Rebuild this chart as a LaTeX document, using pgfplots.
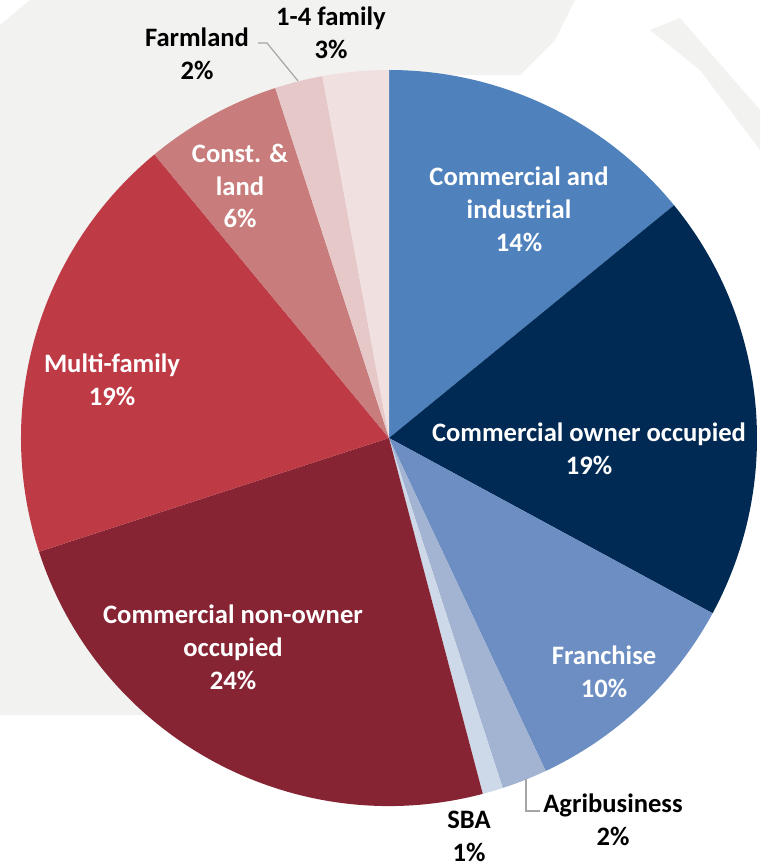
\documentclass[border=0pt]{standalone}
\usepackage{pgfplots}
\pgfplotsset{compat=1.18}
\usepackage{pgfplotstable}
\usepackage{fontspec}
\setmainfont{Carlito}

\definecolor{slice0}{HTML}{4F81BD}
\definecolor{slice1}{HTML}{002A54}
\definecolor{slice2}{HTML}{6C8EC3}
\definecolor{slice3}{HTML}{A3B4D2}
\definecolor{slice4}{HTML}{CDD8E8}
\definecolor{slice5}{HTML}{862433}
\definecolor{slice6}{HTML}{BE3B46}
\definecolor{slice7}{HTML}{C87C7C}
\definecolor{slice8}{HTML}{E6C8C9}
\definecolor{slice9}{HTML}{F1E0E0}
\definecolor{bggray}{HTML}{F2F2F0}
\definecolor{leader}{HTML}{A6A6A6}

% loan mix, percent of portfolio, clockwise from 12 o'clock
\pgfplotstableread{
segment value
CI     14.1
COO    18.8
Fran   10.1
Agri    2.0
SBA     0.9
CNOO   24.1
Multi  19.0
Const   6.0
Farm    2.1
Fam14   2.9
}\pietable

\begin{document}
\begin{tikzpicture}[
  lbl/.style={font=\fontsize{13.3}{16.4}\selectfont\bfseries, align=center, inner sep=0pt},
]
\def\cumangle{90}
\pgfplotsforeachungrouped \i in {0,...,9}{%
  \pgfplotstablegetelem{\i}{value}\of\pietable
  \expandafter\xdef\csname pieA\i\endcsname{\cumangle}%
  \pgfmathsetmacro\cumangle{\cumangle-3.6*\pgfplotsretval}%
  \expandafter\xdef\csname pieB\i\endcsname{\cumangle}%
}
\begin{axis}[
  scale only axis, width=380pt, height=432.5pt,
  xmin=0, xmax=760, ymin=0, ymax=865, y dir=reverse,
  hide axis,
]
% faint watermark in the background
\fill[white] (axis cs:0,0) rectangle (axis cs:760,865);
\fill[bggray] (axis cs:0,25) -- (axis cs:30,0) -- (axis cs:575,0) -- (axis cs:555,40)
  -- (axis cs:520,75) -- (axis cs:389,75) -- (axis cs:389,715) -- (axis cs:0,715) -- cycle;
\fill[bggray] (axis cs:650,30) -- (axis cs:680,18) -- (axis cs:760,110) -- (axis cs:760,150)
  -- (axis cs:700,70) -- cycle;

\pgfplotsinvokeforeach{0,...,9}{
  \fill[slice#1] (axis cs:389,438) -- ++(\csname pieA#1\endcsname:184pt)
    arc[start angle=\csname pieA#1\endcsname, end angle=\csname pieB#1\endcsname, radius=184pt] -- cycle;
}

\draw[leader, line width=0.6pt] (axis cs:258,43) -- (axis cs:267,43) -- (axis cs:298,81);
\draw[leader, line width=0.6pt] (axis cs:526,779) -- (axis cs:526,811) -- (axis cs:540,811);

\node[lbl, text=white] at (axis cs:519,209) {Commercial and\\industrial\\14\%};
\node[lbl, text=white] at (axis cs:589,449) {Commercial owner occupied\\19\%};
\node[lbl, text=white] at (axis cs:604,672) {Franchise\\10\%};
\node[lbl, text=black] at (axis cs:613,820) {Agribusiness\\2\%};
\node[lbl, text=black] at (axis cs:469,836) {SBA\\1\%};
\node[lbl, text=white] at (axis cs:233,647) {Commercial non-owner\\occupied\\24\%};
\node[lbl, text=white] at (axis cs:112,380) {Multi-family\\19\%};
\node[lbl, text=white] at (axis cs:240,186) {Const. \&\\land\\6\%};
\node[lbl, text=black] at (axis cs:197,54) {Farmland\\2\%};
\node[lbl, text=black] at (axis cs:331,33) {1-4 family\\3\%};
\end{axis}
\end{tikzpicture}
\end{document}
